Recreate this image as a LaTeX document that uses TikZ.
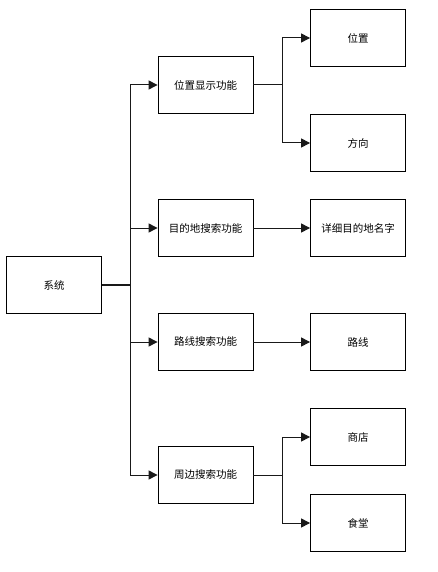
\documentclass[tikz,border=0pt]{standalone}
\usepackage{fontspec}
\setmainfont{Noto Sans CJK SC}
\usetikzlibrary{arrows.meta}
\begin{document}
\begin{tikzpicture}[
  x=1pt, y=-1pt,
  font=\fontsize{10.5}{12}\selectfont,
  box/.style={draw=black, line width=0.8pt, minimum width=95pt, minimum height=57pt, inner sep=0pt},
  link/.style={draw=black!90, line width=1pt},
  arr/.style={link, -{Triangle[length=9pt,width=9pt]}}
]
\useasboundingbox (0,0) rectangle (437,572);
% root
\node[box] (sys) at (54,285) {系统};
% functions
\node[box] (locfn) at (205.5,85) {位置显示功能};
\node[box] (dstfn) at (205.5,228) {目的地搜索功能};
\node[box] (rtefn) at (205.5,342) {路线搜索功能};
\node[box] (nbrfn) at (205.5,475) {周边搜索功能};
% details
\node[box] (pos) at (358,38) {位置};
\node[box] (dir) at (358,143) {方向};
\node[box] (dname) at (358,228) {详细目的地名字};
\node[box] (route) at (358,342) {路线};
\node[box] (shop) at (358,437) {商店};
\node[box] (cant) at (358,523) {食堂};
% connectors
\coordinate (hub) at (130.5,285);
\coordinate (lochub) at (282,85);
\coordinate (nbrhub) at (282,475);
\draw[link, line width=1.6pt] (sys.east) -- (hub);
\draw[arr] (hub) |- (locfn.west);
\draw[arr] (hub) |- (dstfn.west);
\draw[arr] (hub) |- (rtefn.west);
\draw[arr] (hub) |- (nbrfn.west);
\draw[link] (locfn.east) -- (lochub);
\draw[arr] (lochub) |- (pos.west);
\draw[arr] (lochub) |- (dir.west);
\draw[arr] (dstfn.east) -- (dname.west);
\draw[arr] (rtefn.east) -- (route.west);
\draw[link] (nbrfn.east) -- (nbrhub);
\draw[arr] (nbrhub) |- (shop.west);
\draw[arr] (nbrhub) |- (cant.west);
\end{tikzpicture}
\end{document}
